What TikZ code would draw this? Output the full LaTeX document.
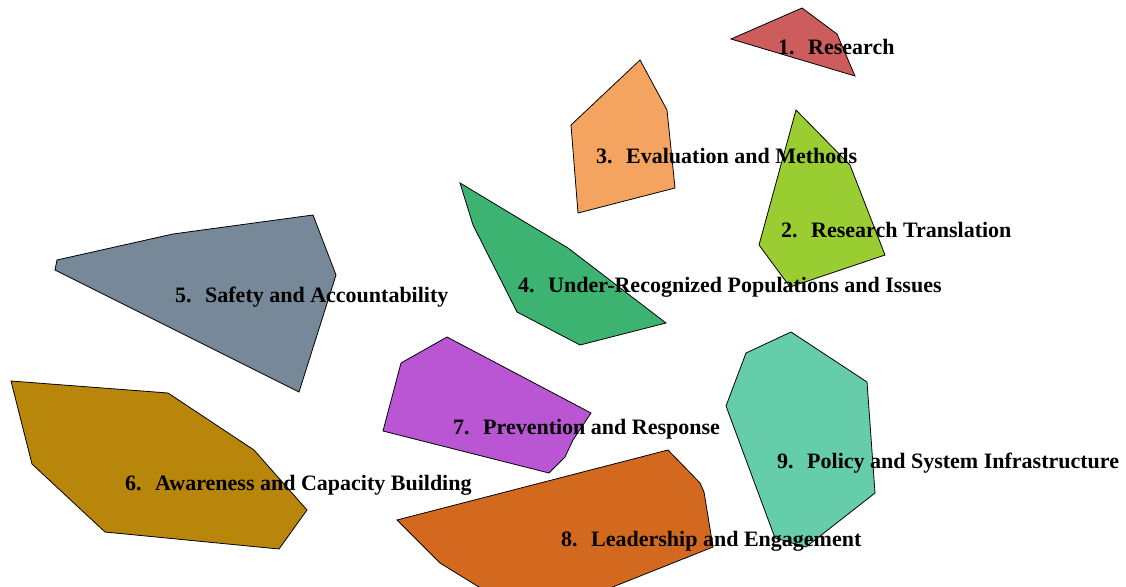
\documentclass[tikz,border=0pt]{standalone}
\usepackage{fontspec}
\setmainfont{Liberation Serif}
\definecolor{c1}{HTML}{CD5C5C}
\definecolor{c2}{HTML}{9ACD32}
\definecolor{c3}{HTML}{F4A460}
\definecolor{c4}{HTML}{3CB371}
\definecolor{c5}{HTML}{778899}
\definecolor{c6}{HTML}{B8860B}
\definecolor{c7}{HTML}{BA55D3}
\definecolor{c8}{HTML}{D2691E}
\definecolor{c9}{HTML}{66CDAA}
\newcommand{\lbl}[2]{\makebox[30pt][l]{#1}#2}
\begin{document}
\begin{tikzpicture}[x=1pt,y=-1pt,
  region/.style={draw=black,line width=0.8pt,line join=miter},
  lab/.style={anchor=base west,inner sep=0pt,font=\fontsize{22}{26}\selectfont\bfseries}]
\useasboundingbox (0,0) rectangle (1126,586);
\begin{scope}
\clip (0,0) rectangle (1126,586);
\filldraw[region,fill=c1] (731,39) -- (802,8) -- (837,34) -- (855,76) -- cycle;
\filldraw[region,fill=c2] (796,110) -- (850,165) -- (885,255) -- (790,287) -- (759,245) -- cycle;
\filldraw[region,fill=c3] (640,60) -- (667,110) -- (675,188) -- (578,213) -- (571,125) -- cycle;
\filldraw[region,fill=c4] (460,183) -- (568,248) -- (666,323) -- (580,345) -- (517,312) -- (473,225) -- cycle;
\filldraw[region,fill=c5] (313,215) -- (336,275) -- (299,392) -- (55,270) -- (57,260) -- (173,234) -- cycle;
\filldraw[region,fill=c6] (11,381) -- (168,393) -- (254,450) -- (307,510) -- (279,549) -- (105,532) -- (32,464) -- cycle;
\filldraw[region,fill=c7] (447,337) -- (591,413) -- (573,440) -- (565,457) -- (549,473) -- (383,431) -- (401,363) -- cycle;
\filldraw[region,fill=c8] (668,450) -- (700,483) -- (704,492) -- (713,547) -- (580,600) -- (500,600) -- (440,563) -- (397,520) -- cycle;
\filldraw[region,fill=c9] (791,332) -- (867,382) -- (875,493) -- (806,547) -- (775,538) -- (726,406) -- (746,353) -- cycle;
\end{scope}
\node[lab] (t1) at (778,55) {\lbl{1.}{Research}};
\node[lab] (t2) at (781,237) {\lbl{2.}{Research Translation}};
\node[lab] (t3) at (596,163) {\lbl{3.}{Evaluation and Methods}};
\node[lab] (t4) at (518,292) {\lbl{4.}{Under-Recognized Populations and Issues}};
\node[lab] (t5) at (175,302) {\lbl{5.}{Safety and Accountability}};
\node[lab] (t6) at (125,490) {\lbl{6.}{Awareness and Capacity Building}};
\node[lab] (t7) at (453,434) {\lbl{7.}{Prevention and Response}};
\node[lab] (t8) at (561,546) {\lbl{8.}{Leadership and Engagement}};
\node[lab] (t9) at (777,468) {\lbl{9.}{Policy and System Infrastructure}};
\end{tikzpicture}
\end{document}
